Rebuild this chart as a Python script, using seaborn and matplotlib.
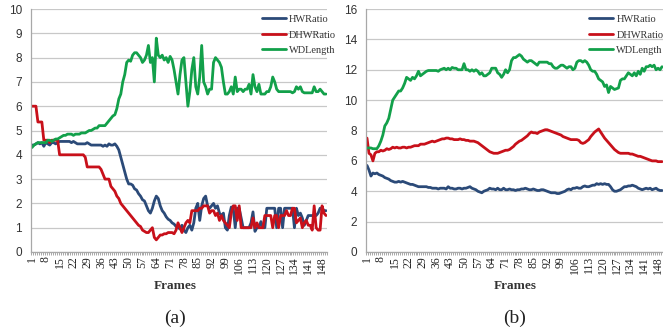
import numpy as np
import pandas as pd
import matplotlib
matplotlib.use("Agg")
import matplotlib.pyplot as plt
import seaborn as sns

frames = list(range(1, 151))
tick_frames = list(range(1, 149, 7))
series_names = ["HWRatio", "DHWRatio", "WDLength"]
colors = ["#2B4A78", "#C8101A", "#12A04A"]

# ---- panel (a) ----
a_hw = [4.4, 4.4, 4.45, 4.5, 4.45, 4.5, 4.35, 4.5, 4.45, 4.4,
        4.5, 4.5, 4.45, 4.5, 4.55, 4.55, 4.55, 4.55, 4.55, 4.55,
        4.5, 4.55, 4.5, 4.45, 4.45, 4.45, 4.45, 4.45, 4.5, 4.45,
        4.4, 4.4, 4.4, 4.4, 4.4, 4.4, 4.35, 4.4, 4.35, 4.45,
        4.4, 4.4, 4.45, 4.35, 4.2, 3.9, 3.6, 3.3, 3.0, 2.8,
        2.8, 2.75, 2.6, 2.55, 2.4, 2.3, 2.15, 2.1, 1.9, 1.7,
        1.6, 1.8, 2.1, 2.3, 2.2, 1.9, 1.7, 1.6, 1.45, 1.35,
        1.3, 1.2, 1.15, 1.05, 1.0, 0.95, 1.1, 0.9, 0.8, 1.0,
        1.1, 0.9, 1.2, 1.8, 2.0, 1.3, 1.9, 2.2, 2.3, 1.9,
        1.8, 1.9, 2.0, 1.8, 1.9, 1.6, 1.5, 1.6, 1.0, 0.9,
        1.5, 1.85, 1.8, 1.0, 1.8, 1.8, 1.4, 1.0, 1.0, 1.0,
        1.0, 1.2, 1.65, 0.85, 1.0, 1.0, 1.25, 1.0, 1.0, 1.8,
        1.8, 1.8, 1.8, 1.8, 1.0, 1.8, 1.8, 1.0, 1.8, 1.8,
        1.8, 1.8, 1.8, 1.0, 1.8, 1.5, 1.6, 1.4, 1.1, 1.3,
        1.5, 1.5, 1.5, 1.5, 1.5, 1.6, 1.8, 1.8, 1.7, 1.7]
a_dhw = [6.0, 6.0, 6.0, 5.35, 5.35, 5.35, 4.6, 4.6, 4.6, 4.5,
         4.6, 4.6, 4.6, 4.6, 4.0, 4.0, 4.0, 4.0, 4.0, 4.0,
         4.0, 4.0, 4.0, 4.0, 4.0, 4.0, 4.0, 3.9, 3.5, 3.5,
         3.5, 3.5, 3.5, 3.5, 3.5, 3.4, 3.2, 3.0, 3.0, 3.0,
         2.7, 2.6, 2.5, 2.3, 2.2, 2.0, 1.9, 1.8, 1.7, 1.6,
         1.5, 1.4, 1.3, 1.2, 1.1, 1.05, 0.9, 0.85, 0.8, 0.8,
         0.9, 1.0, 0.6, 0.5, 0.6, 0.7, 0.7, 0.75, 0.75, 0.8,
         0.8, 0.8, 0.75, 0.9, 1.2, 1.0, 0.8, 1.0, 1.2, 1.3,
         1.2, 1.7, 1.7, 1.7, 1.7, 1.8, 1.8, 1.9, 1.9, 1.9,
         1.6, 1.7, 1.7, 1.5, 1.6, 1.3, 1.5, 1.3, 1.2, 1.1,
         1.0, 1.6, 1.9, 1.9, 1.3, 1.9, 1.0, 1.0, 1.0, 1.0,
         1.0, 1.0, 1.4, 1.0, 1.2, 1.0, 1.0, 1.0, 1.5, 1.5,
         1.5, 1.5, 1.0, 1.5, 1.5, 1.0, 1.5, 1.5, 1.5, 1.7,
         1.5, 1.5, 1.8, 1.8, 1.2, 1.3, 1.4, 1.0, 1.2, 1.3,
         1.1, 1.1, 0.9, 1.9, 1.0, 0.9, 0.9, 1.9, 1.6, 1.5]
a_wd = [4.3, 4.4, 4.45, 4.5, 4.5, 4.5, 4.5, 4.5, 4.6, 4.6,
        4.55, 4.6, 4.65, 4.65, 4.7, 4.75, 4.8, 4.8, 4.85, 4.85,
        4.85, 4.8, 4.85, 4.85, 4.85, 4.9, 4.9, 4.9, 4.95, 5.0,
        5.0, 5.05, 5.1, 5.1, 5.2, 5.2, 5.2, 5.2, 5.3, 5.4,
        5.5, 5.6, 5.65, 5.9, 6.3, 6.5, 7.0, 7.3, 7.8, 7.9,
        7.85, 8.1, 8.2, 8.2, 8.1, 8.0, 7.8, 7.9, 8.1, 8.5,
        7.8, 8.0, 7.0, 8.8, 8.1, 8.0, 8.1, 7.9, 8.0, 7.8,
        8.05, 7.9, 7.5, 7.0, 6.5, 7.3, 7.9, 8.0, 7.0, 6.0,
        6.6, 7.5, 8.0, 6.8, 6.5, 7.2, 8.5, 7.0, 6.8, 6.5,
        6.7, 6.7, 7.8, 8.0, 7.9, 7.8, 7.6, 7.0, 6.5, 6.5,
        6.6, 6.8, 6.5, 7.2, 6.6, 6.7, 6.7, 6.6, 6.7, 6.7,
        6.9, 6.5, 7.3, 6.8, 6.6, 6.9, 6.5, 6.5, 6.5, 6.6,
        6.6, 6.8, 7.2, 7.0, 6.7, 6.6, 6.6, 6.6, 6.6, 6.6,
        6.6, 6.6, 6.55, 6.6, 6.8, 6.7, 6.8, 6.6, 6.55, 6.55,
        6.55, 6.55, 6.55, 6.8, 6.6, 6.6, 6.7, 6.6, 6.5, 6.5]

# ---- panel (b) ----
b_hw = [5.7, 5.4, 5.0, 5.2, 5.15, 5.2, 5.1, 5.05, 5.0, 4.9,
        4.85, 4.8, 4.7, 4.65, 4.6, 4.6, 4.65, 4.6, 4.65, 4.6,
        4.55, 4.5, 4.45, 4.45, 4.4, 4.35, 4.3, 4.3, 4.3, 4.3,
        4.3, 4.25, 4.25, 4.2, 4.2, 4.2, 4.15, 4.2, 4.2, 4.2,
        4.15, 4.3, 4.2, 4.2, 4.15, 4.15, 4.2, 4.2, 4.15, 4.2,
        4.2, 4.25, 4.3, 4.2, 4.15, 4.1, 4.0, 3.95, 3.9, 4.0,
        4.05, 4.1, 4.2, 4.15, 4.15, 4.1, 4.2, 4.1, 4.1, 4.2,
        4.1, 4.1, 4.15, 4.1, 4.1, 4.05, 4.1, 4.1, 4.15, 4.15,
        4.2, 4.15, 4.1, 4.1, 4.15, 4.1, 4.05, 4.05, 4.1, 4.1,
        4.05, 4.0, 3.95, 3.9, 3.9, 3.9, 3.85, 3.85, 3.9, 3.95,
        4.0, 4.1, 4.15, 4.1, 4.2, 4.2, 4.25, 4.2, 4.2, 4.3,
        4.35, 4.3, 4.3, 4.35, 4.4, 4.4, 4.5, 4.45, 4.5, 4.45,
        4.5, 4.45, 4.45, 4.3, 4.1, 4.0, 4.0, 4.05, 4.1, 4.2,
        4.3, 4.3, 4.35, 4.35, 4.4, 4.35, 4.3, 4.2, 4.15, 4.1,
        4.15, 4.2, 4.15, 4.2, 4.1, 4.15, 4.2, 4.1, 4.05, 4.05]
b_dhw = [7.5, 6.5, 6.4, 6.0, 6.5, 6.6, 6.6, 6.7, 6.65, 6.7,
         6.8, 6.75, 6.8, 6.9, 6.85, 6.9, 6.85, 6.85, 6.9, 6.9,
         6.85, 6.9, 6.9, 6.95, 7.0, 7.0, 7.0, 7.1, 7.1, 7.1,
         7.15, 7.2, 7.25, 7.3, 7.25, 7.3, 7.35, 7.4, 7.45, 7.45,
         7.5, 7.5, 7.45, 7.45, 7.4, 7.4, 7.4, 7.45, 7.4, 7.4,
         7.35, 7.35, 7.3, 7.3, 7.3, 7.25, 7.2, 7.1, 7.0, 6.9,
         6.8, 6.7, 6.6, 6.55, 6.5, 6.5, 6.5, 6.55, 6.6, 6.65,
         6.7, 6.7, 6.75, 6.85, 6.95, 7.1, 7.2, 7.3, 7.35, 7.45,
         7.55, 7.65, 7.8, 7.9, 7.85, 7.85, 7.8, 7.9, 7.95, 8.0,
         8.05, 8.05, 8.0, 7.95, 7.9, 7.85, 7.8, 7.75, 7.7, 7.6,
         7.55, 7.5, 7.45, 7.4, 7.4, 7.4, 7.4, 7.35, 7.2, 7.15,
         7.2, 7.3, 7.4, 7.6, 7.75, 7.9, 8.0, 8.1, 7.9, 7.7,
         7.5, 7.35, 7.2, 7.05, 6.9, 6.75, 6.65, 6.55, 6.5, 6.5,
         6.5, 6.5, 6.5, 6.45, 6.45, 6.4, 6.35, 6.3, 6.3, 6.25,
         6.2, 6.15, 6.1, 6.05, 6.0, 6.0, 6.0, 5.95, 5.95, 5.95]
b_wd = [6.85, 6.85, 6.85, 6.8, 6.8, 6.8, 7.0, 7.3, 7.7, 8.3,
        8.5, 8.8, 9.4, 10.0, 10.2, 10.4, 10.6, 10.6, 10.8, 11.1,
        11.5, 11.4, 11.3, 11.5, 11.4, 11.6, 11.9, 11.6, 11.7, 11.8,
        11.9, 11.95, 11.95, 11.95, 11.95, 11.95, 11.9, 12.0, 12.05, 12.1,
        12.0, 12.1, 12.0, 12.15, 12.1, 12.1, 12.0, 12.0, 12.0, 12.4,
        12.0, 12.0, 11.9, 12.0, 11.9, 12.0, 11.9, 11.7, 11.8, 11.6,
        11.6, 11.7, 11.8, 12.1, 12.1, 12.1, 11.8, 11.7, 11.5, 11.7,
        12.0, 11.8, 12.0, 12.6, 12.8, 12.8, 12.9, 13.0, 12.9, 12.7,
        12.6, 12.5, 12.6, 12.6, 12.5, 12.4, 12.3, 12.5, 12.5, 12.5,
        12.5, 12.5, 12.4, 12.4, 12.2, 12.1, 12.1, 12.2, 12.3, 12.3,
        12.2, 12.1, 12.2, 12.2, 12.0, 12.1, 12.5, 12.6, 12.6, 12.5,
        12.6, 12.5, 12.3, 12.0, 11.9, 11.9, 11.7, 11.4, 11.3, 11.2,
        10.9, 11.0, 10.5, 10.9, 10.8, 10.7, 10.75, 10.8, 11.3, 11.4,
        11.4, 11.6, 11.8, 11.7, 11.6, 11.8, 11.6, 11.9, 11.7, 12.1,
        11.9, 12.2, 12.2, 12.3, 12.2, 12.3, 12.0, 12.1, 12.0, 12.2]

panels = [
    ("(a)", [a_hw, a_dhw, a_wd], 10, 1),
    ("(b)", [b_hw, b_dhw, b_wd], 16, 2),
]

sns.set_style("white")
plt.rcParams["font.family"] = ["Liberation Serif", "DejaVu Serif"]

fig = plt.figure(figsize=(6.63, 3.32), dpi=100)
W, H = 663, 332
axes_px = [(31, 9, 327, 252), (366, 9, 663, 252)]
label_x = [175, 515]
legend_x = [0.772, 0.745]

for (tag, vals, ymax, ystep), (x0, y0, x1, y1), lx, lgx in zip(panels, axes_px, label_x, legend_x):
    ax = fig.add_axes([x0 / W, 1 - y1 / H, (x1 - x0) / W, (y1 - y0) / H])
    df = pd.DataFrame({
        "Frame": frames * 3,
        "Value": vals[0] + vals[1] + vals[2],
        "Series": sum([[n] * len(frames) for n in series_names], []),
    })
    sns.lineplot(data=df, x="Frame", y="Value", hue="Series",
                 hue_order=series_names, palette=colors, linewidth=2.0,
                 ax=ax, legend=True)
    ax.set_xlim(0.5, 150.5)
    ax.set_ylim(0, ymax)
    yt = np.arange(0, ymax + 0.1, ystep)
    ax.set_yticks(yt)
    ax.set_yticklabels([f"{int(v)}" for v in yt],
                       fontsize=8.5, family=["Liberation Sans", "DejaVu Sans"],
                       color="#333333")
    ax.set_xticks(tick_frames)
    ax.set_xticklabels([str(t) for t in tick_frames], rotation=90,
                       fontsize=8.5, color="#222222")
    ax.set_xticks(np.arange(0.5, 151, 1), minor=True)
    ax.tick_params(axis="x", which="major", length=0, pad=3)
    ax.tick_params(axis="x", which="minor", length=2.5, width=0.6,
                   color="#9a9a9a", direction="out", bottom=True)
    ax.tick_params(axis="y", length=0, pad=6.5)
    ax.grid(axis="y", color="#c8c8c8", linewidth=0.9)
    ax.grid(axis="x", visible=False)
    ax.set_axisbelow(True)
    for s in ["top", "right"]:
        ax.spines[s].set_visible(False)
    for s in ["left", "bottom"]:
        ax.spines[s].set_color("#a8a8a8")
        ax.spines[s].set_linewidth(0.9)
    ax.set_xlabel("")
    ax.set_ylabel("")
    leg = ax.legend(loc="upper left", bbox_to_anchor=(lgx, 0.985),
                    frameon=False, fontsize=7.5, handlelength=2.3,
                    handletextpad=0.3, borderpad=0.2, labelspacing=0.6,
                    borderaxespad=0)
    for t in leg.get_texts():
        t.set_color("#333333")
    fig.text(lx / W, 1 - 286 / H, "Frames", ha="center", va="center",
             fontsize=9.5, fontweight="bold", color="#333333")
    fig.text(lx / W, 1 - 318 / H, tag, ha="center", va="center",
             fontsize=14, color="#222222")

fig.savefig("out.png", dpi=100)
